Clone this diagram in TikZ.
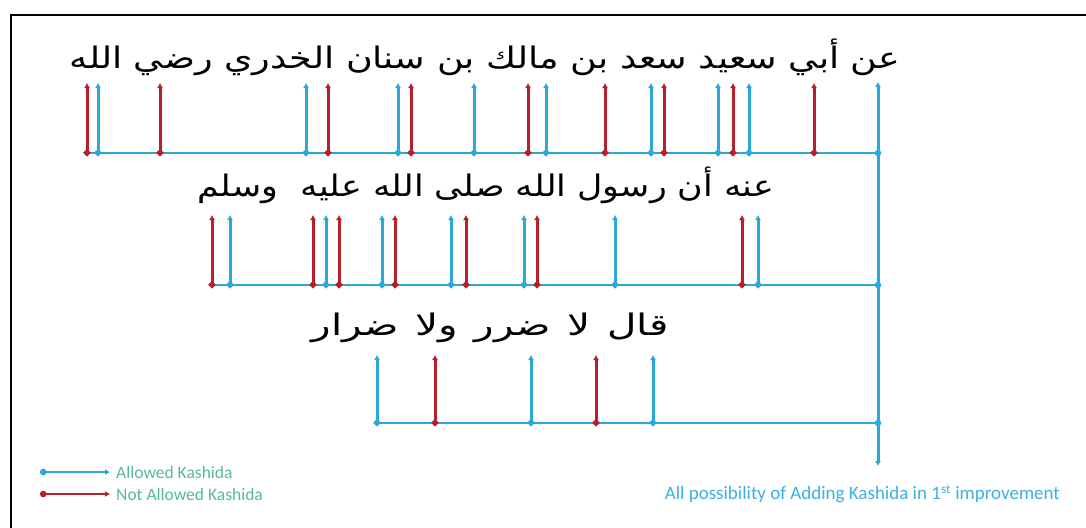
\documentclass[tikz,border=0pt]{standalone}
\usepackage{fontspec}
\setmainfont{Carlito}
\newfontfamily\arabicfont[Script=Arabic]{DejaVu Sans}
\TeXXeTstate=1
\usetikzlibrary{arrows.meta}
\definecolor{kblue}{RGB}{41,168,218}
\definecolor{kred}{RGB}{182,32,44}
\definecolor{kgreen}{RGB}{86,188,146}
\definecolor{capblue}{RGB}{62,176,224}

\begin{document}
\begin{tikzpicture}[
  x=1pt, y=-1pt,
  ok/.style={draw=kblue, line width=3pt, shorten <=-3pt, {Circle[length=6.5pt]}-{Latex[length=5pt,width=6pt]}},
  notok/.style={draw=kred, line width=3pt, shorten <=-3pt, {Circle[length=6.5pt]}-{Latex[length=5pt,width=6pt]}},
  baseln/.style={draw=kblue, line width=2.8pt},
  joint/.style={circle, fill=kblue, inner sep=0pt, minimum size=6.5pt},
  arab/.style={font=\fontsize{27}{30}\arabicfont, inner sep=0pt},
  legtxt/.style={anchor=west, inner sep=0pt, text=kgreen, font=\fontsize{17.5}{20}\selectfont}
]
\useasboundingbox (0,0) rectangle (1086,527);
\fill[white] (0,0) rectangle (1086,527);
\draw[line width=1.5pt] (11,530) -- (11,15) -- (1090,15);

% texts
\node[arab] (line1) at (485,57) {\scalebox{1.35}[1.1]{\beginR عن أبي سعيد سعد بن مالك بن سنان الخدري رضي الله\endR}};
\node[arab] (line2) at (486,185) {\scalebox{1.29}[1.1]{\beginR عنه أن رسول الله صلى الله عليه \ وسلم\endR}};
\node[arab] (line3) at (490,328) {\scalebox{1.5}[1.1]{\spaceskip=11pt\beginR قال لا ضرر ولا ضرار\endR}};

% trunk
\coordinate (trtop) at (878,82);
\coordinate (trbot) at (878,466);
\coordinate (j1) at (878,153);
\coordinate (j2) at (878,285);
\coordinate (j3) at (878,423);
\draw[draw=kblue, line width=3pt, {Latex[length=5pt,width=6pt]}-{Latex[length=5pt,width=6pt]}] (trbot) -- (trtop);

% base lines
\coordinate (w1) at (86,153);
\coordinate (w2) at (212,285);
\coordinate (w3) at (377,423);
\foreach \r in {1,2,3} {
  \draw[baseln] (w\r) -- (j\r);
  \node[joint] at (j\r) {};
}

% kashida points
\foreach \x/\k in {87/notok,98/ok,160/notok,306/ok,328/notok,398/ok,411/notok,474/ok,528/notok,546/ok,605/notok,651/ok,664/notok,718/ok,733/notok,749/ok,814/notok} {
  \coordinate (a\x) at (\x,153);
  \coordinate (at\x) at (\x,83);
  \draw[\k] (a\x) -- (at\x);
}
\foreach \x/\k in {212/notok,230/ok,313/notok,326/ok,339/notok,382/ok,395/notok,451/ok,466/notok,524/ok,537/notok,615/ok,742/notok,758/ok} {
  \coordinate (b\x) at (\x,285);
  \coordinate (bt\x) at (\x,215);
  \draw[\k] (b\x) -- (bt\x);
}
\foreach \x/\k in {377/ok,435/notok,531/ok,596/notok,653/ok} {
  \coordinate (c\x) at (\x,423);
  \coordinate (ct\x) at (\x,355);
  \draw[\k] (c\x) -- (ct\x);
}

% legend
\coordinate (lg1a) at (43,472);
\coordinate (lg1b) at (110,472);
\coordinate (lg2a) at (43,494);
\coordinate (lg2b) at (110,494);
\draw[ok, line width=2pt] (lg1a) -- (lg1b);
\draw[notok, line width=2pt] (lg2a) -- (lg2b);
\node[legtxt] (okt) at (116,472) {Allowed Kashida};
\node[legtxt] (nokt) at (116,494) {Not Allowed Kashida};

\node[anchor=east, inner sep=0pt, text=capblue, font=\fontsize{19}{22}\selectfont] (cap) at (1060,494) {All possibility of Adding Kashida in 1\textsuperscript{st} improvement};
\end{tikzpicture}
\end{document}
